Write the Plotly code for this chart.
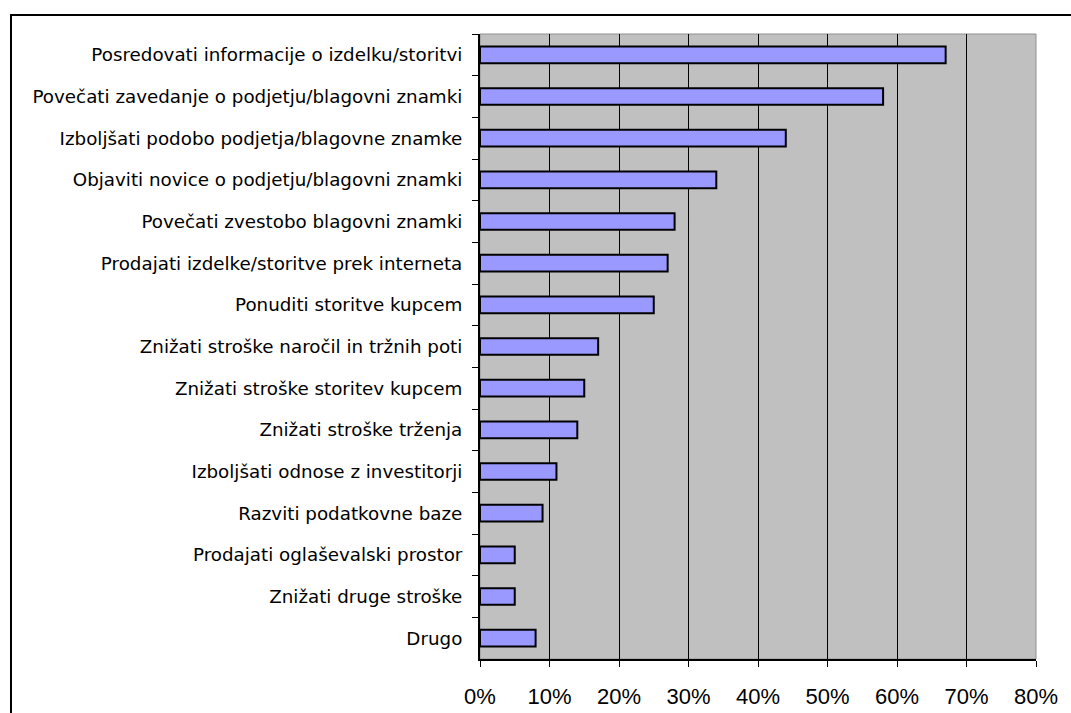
import plotly.graph_objects as go

categories = [
    "Posredovati informacije o izdelku/storitvi",
    "Povečati zavedanje o podjetju/blagovni znamki",
    "Izboljšati podobo podjetja/blagovne znamke",
    "Objaviti novice o podjetju/blagovni znamki",
    "Povečati zvestobo blagovni znamki",
    "Prodajati izdelke/storitve prek interneta",
    "Ponuditi storitve kupcem",
    "Znižati stroške naročil in tržnih poti",
    "Znižati stroške storitev kupcem",
    "Znižati stroške trženja",
    "Izboljšati odnose z investitorji",
    "Razviti podatkovne baze",
    "Prodajati oglaševalski prostor",
    "Znižati druge stroške",
    "Drugo",
]
values = [0.67, 0.58, 0.44, 0.34, 0.28, 0.27, 0.25, 0.17, 0.15, 0.14, 0.11, 0.09, 0.05, 0.05, 0.08]
x_ticks = [0, 0.1, 0.2, 0.3, 0.4, 0.5, 0.6, 0.7, 0.8]
x_tick_labels = ["0%", "10%", "20%", "30%", "40%", "50%", "60%", "70%", "80%"]

W, H = 1071, 713
L, R, T, B = 480, 1036, 34, 659

fig = go.Figure(
    go.Bar(
        x=values,
        y=categories,
        orientation="h",
        marker=dict(color="#9999FF", line=dict(color="#000000", width=2)),
        width=0.4,
        hoverinfo="x+y",
    )
)

pw, ph = R - L, B - T
def px_x(v):
    return (v - L) / pw
def px_y(v):
    return (B - v) / ph

fig.update_layout(
    width=W,
    height=H,
    margin=dict(l=L, r=W - R, t=T, b=H - B, pad=0, autoexpand=False),
    paper_bgcolor="#FFFFFF",
    plot_bgcolor="#C0C0C0",
    showlegend=False,
    font=dict(family="Liberation Sans, Arial, sans-serif", color="#000000"),
    xaxis=dict(
        range=[0, 0.8],
        tickvals=x_ticks,
        ticktext=x_tick_labels,
        showgrid=True,
        gridcolor="#000000",
        gridwidth=1,
        zeroline=False,
        showline=True,
        linecolor="#000000",
        linewidth=2,
        ticks="outside",
        ticklen=6,
        tickcolor="#000000",
        tickwidth=1,
        tickfont=dict(size=22),
        ticklabelstandoff=11,
        automargin=False,
        fixedrange=True,
    ),
    yaxis=dict(
        categoryorder="array",
        categoryarray=categories,
        autorange=False,
        range=[len(categories) - 0.5, -0.5],
        showgrid=False,
        zeroline=False,
        showline=True,
        linecolor="#000000",
        linewidth=2,
        ticks="outside",
        tickson="boundaries",
        ticklen=6,
        tickcolor="#000000",
        tickwidth=1,
        tickfont=dict(size=18.3, family="DejaVu Sans, Verdana, sans-serif"),
        ticklabelstandoff=12,
        automargin=False,
        fixedrange=True,
    ),
    shapes=[
        dict(
            type="rect", xref="paper", yref="paper",
            x0=0, x1=1, y0=0, y1=1,
            line=dict(color="#909090", width=1),
            layer="below",
        ),
        dict(
            type="rect", xref="paper", yref="paper",
            x0=px_x(11), x1=px_x(1110), y0=px_y(760), y1=px_y(15),
            line=dict(color="#000000", width=2),
            fillcolor="rgba(0,0,0,0)",
        ),
    ],
)

fig.write_html("out.html")
